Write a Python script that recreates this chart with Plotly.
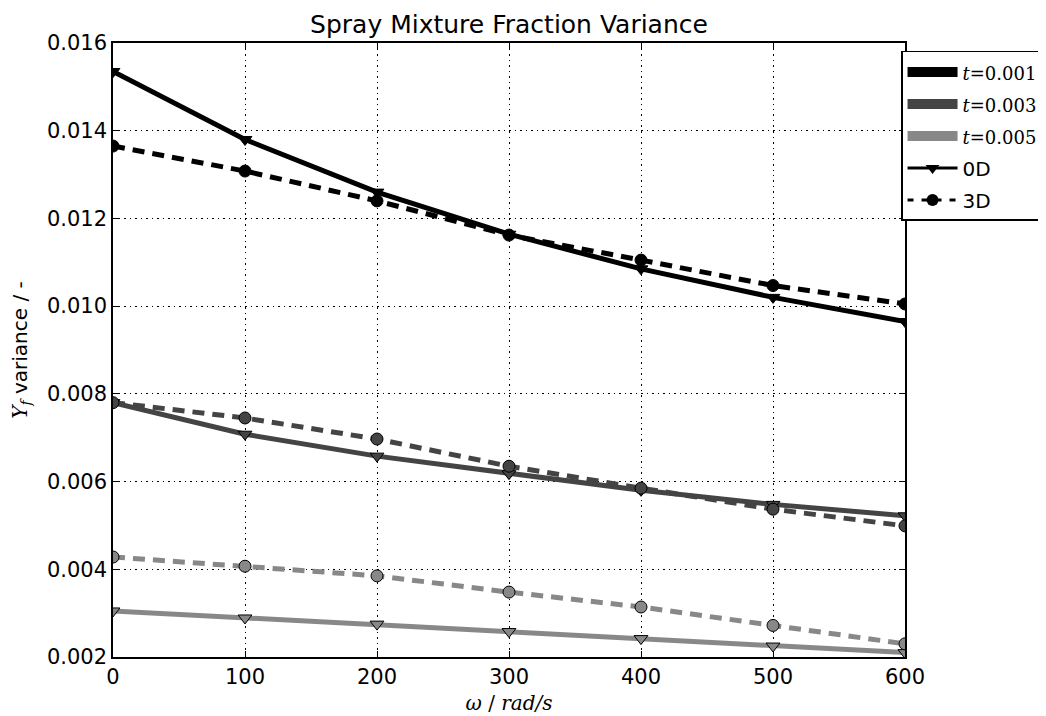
import plotly.graph_objects as go

omega = [0, 100, 200, 300, 400, 500, 600]

var_0d_t001 = [0.01535, 0.01380, 0.01260, 0.01164, 0.01085, 0.01020, 0.00965]
var_3d_t001 = [0.01365, 0.01308, 0.01240, 0.01162, 0.01105, 0.01047, 0.01005]
var_0d_t003 = [0.00780, 0.00708, 0.00658, 0.00618, 0.00580, 0.00548, 0.00522]
var_3d_t003 = [0.00780, 0.00745, 0.00697, 0.00635, 0.00585, 0.00537, 0.00499]
var_0d_t005 = [0.00305, 0.00289, 0.00275, 0.00258, 0.00242, 0.00225, 0.00210]
var_3d_t005 = [0.00428, 0.00407, 0.00385, 0.00348, 0.00314, 0.00272, 0.00230]

times = ["0.001", "0.003", "0.005"]
colors = ["#000000", "#444444", "#888888"]

fig = go.Figure()

series = [(var_0d_t001, var_3d_t001), (var_0d_t003, var_3d_t003), (var_0d_t005, var_3d_t005)]
for (v0, v3), c in zip(series, colors):
    fig.add_trace(go.Scatter(x=omega, y=v0, mode="lines+markers", showlegend=False,
                             line=dict(color=c, width=5),
                             marker=dict(symbol="triangle-down", size=12, color=c,
                                         line=dict(color="black", width=1))))
    fig.add_trace(go.Scatter(x=omega, y=v3, mode="lines+markers", showlegend=False,
                             line=dict(color=c, width=5, dash="12px,8px"),
                             marker=dict(symbol="circle", size=12, color=c,
                                         line=dict(color="black", width=1))))

# legend entries (one group each so the gap between rows can be set)
serif = '<span style="font-family:DejaVu Serif;font-size:18px">'
for t, c in zip(times, colors):
    fig.add_trace(go.Scatter(x=[None], y=[None], mode="lines", legendgroup=t,
                             name=serif + "<i>t</i>=" + t + "</span>",
                             line=dict(color=c, width=12)))
fig.add_trace(go.Scatter(x=[None], y=[None], mode="lines+markers", name="0D", legendgroup="0D",
                         line=dict(color="black", width=3),
                         marker=dict(symbol="triangle-down", size=12, color="black")))
fig.add_trace(go.Scatter(x=[None], y=[None], mode="lines+markers", name="3D", legendgroup="3D",
                         line=dict(color="black", width=3, dash="6px,8px"),
                         marker=dict(symbol="circle", size=12, color="black")))

axis_style = dict(showline=True, linecolor="black", linewidth=1.5, mirror="ticks",
                  ticks="inside", ticklen=6, tickcolor="black", automargin=False,
                  showgrid=True, gridcolor="black", gridwidth=1, griddash="1.5px,4px",
                  zeroline=False, tickfont=dict(family="DejaVu Sans", size=21, color="black"))

fig.update_xaxes(range=[0, 600], tickvals=[0, 100, 200, 300, 400, 500, 600],
                 title=dict(text="<i>ω</i> / <i>rad/s</i>", standoff=8,
                            font=dict(family="DejaVu Serif", size=20, color="black")),
                 **axis_style)
fig.update_yaxes(range=[0.002, 0.016], tickvals=[0.002, 0.004, 0.006, 0.008, 0.010, 0.012, 0.014, 0.016],
                 tickformat=".3f",
                 title=dict(text='<span style="font-family:DejaVu Serif"><i>Y<sub>f</sub></i></span> variance / -',
                            standoff=14,
                            font=dict(family="DejaVu Sans", size=20, color="black")),
                 **axis_style)

# the page body adds an 8px offset, so margins are shifted by that amount
fig.update_layout(
    width=1046, height=716,
    margin=dict(l=105, r=149, t=35, b=67, autoexpand=False),
    paper_bgcolor="white", plot_bgcolor="white",
    title=dict(text="Spray Mixture Fraction Variance", x=0.5, xref="paper", xanchor="center",
               y=1 - 16 / 716, yref="container", yanchor="middle",
               font=dict(family="DejaVu Sans", size=25, color="black")),
    legend=dict(x=0.995, y=0.987, xanchor="left", yanchor="top",
                bgcolor="white", bordercolor="black", borderwidth=1.5,
                font=dict(family="DejaVu Sans", size=20, color="black"),
                itemwidth=50, traceorder="grouped", tracegroupgap=3),
)

fig.write_html("out.html")
